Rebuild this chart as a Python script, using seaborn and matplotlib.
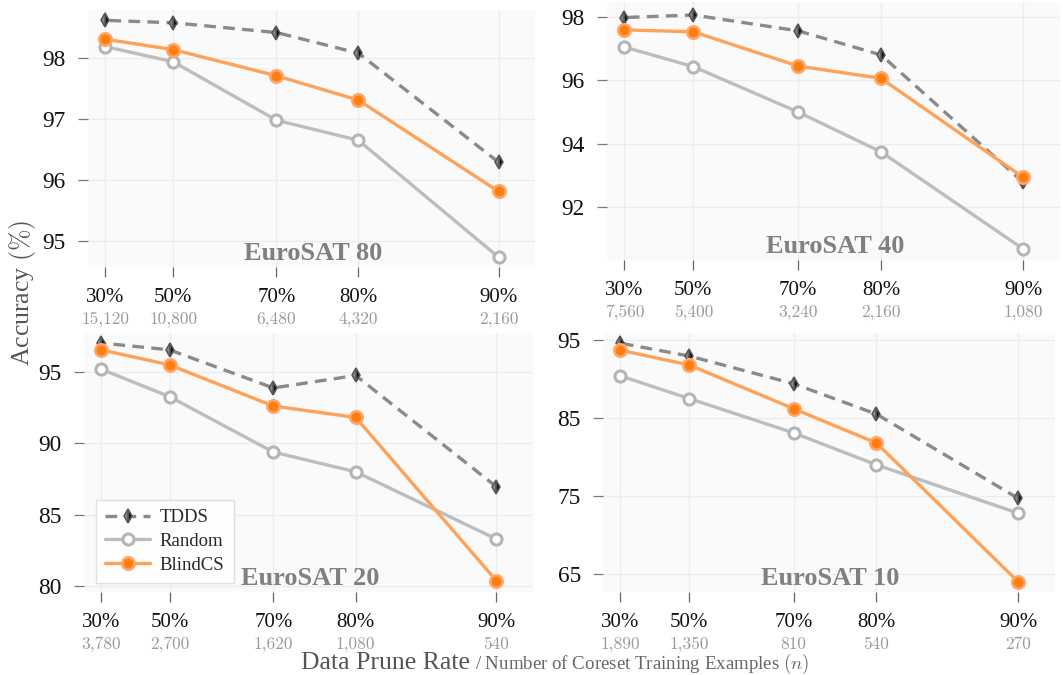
import matplotlib
matplotlib.use("Agg")
import matplotlib.pyplot as plt
import numpy as np
import seaborn as sns

# ---------------------------------------------------------------------------
# Data
# ---------------------------------------------------------------------------

PRUNE_LABELS = ["30%", "50%", "70%", "80%", "90%"]
KEEP_FRACTION = [0.7, 0.5, 0.3, 0.2, 0.1]   # 1 - prune rate, drawn on a log axis

DATASETS = ["EuroSAT 80", "EuroSAT 40", "EuroSAT 20", "EuroSAT 10"]

CORESET_SIZES = {
    "EuroSAT 80": ["15,120", "10,800", "6,480", "4,320", "2,160"],
    "EuroSAT 40": ["7,560", "5,400", "3,240", "2,160", "1,080"],
    "EuroSAT 20": ["3,780", "2,700", "1,620", "1,080", "540"],
    "EuroSAT 10": ["1,890", "1,350", "810", "540", "270"],
}

tdds_80 = [98.62, 98.58, 98.42, 98.08, 96.29]
random_80 = [98.19, 97.94, 96.98, 96.65, 94.73]
blindcs_80 = [98.31, 98.14, 97.71, 97.31, 95.81]

tdds_40 = [97.98, 98.06, 97.56, 96.80, 92.78]
random_40 = [97.05, 96.43, 95.00, 93.74, 90.68]
blindcs_40 = [97.59, 97.53, 96.45, 96.06, 92.94]

tdds_20 = [97.00, 96.52, 93.86, 94.73, 86.95]
random_20 = [95.17, 93.25, 89.38, 88.00, 83.30]
blindcs_20 = [96.52, 95.47, 92.60, 91.80, 80.38]

tdds_10 = [94.6, 92.95, 89.4, 85.5, 74.7]
random_10 = [90.4, 87.5, 83.1, 79.0, 72.8]
blindcs_10 = [93.7, 91.8, 86.2, 81.8, 64.0]

SERIES = {
    "EuroSAT 80": (tdds_80, random_80, blindcs_80),
    "EuroSAT 40": (tdds_40, random_40, blindcs_40),
    "EuroSAT 20": (tdds_20, random_20, blindcs_20),
    "EuroSAT 10": (tdds_10, random_10, blindcs_10),
}

Y_TICKS = {
    "EuroSAT 80": [95, 96, 97, 98],
    "EuroSAT 40": [92, 94, 96, 98],
    "EuroSAT 20": [80, 85, 90, 95],
    "EuroSAT 10": [65, 75, 85, 95],
}

Y_LIMITS = {
    "EuroSAT 80": (94.57, 98.79),
    "EuroSAT 40": (90.33, 98.47),
    "EuroSAT 20": (79.6, 97.7),
    "EuroSAT 10": (62.7, 95.9),
}

# ---------------------------------------------------------------------------
# Style
# ---------------------------------------------------------------------------

W, H = 1063, 675
DPI = 100

# axes boxes in pixels: left, right, top, bottom
AX_BOX = {
    "EuroSAT 80": (88, 535, 10, 267),
    "EuroSAT 40": (607, 1060, 2, 260),
    "EuroSAT 20": (84, 533, 333, 592),
    "EuroSAT 10": (603, 1055, 333, 592),
}

STYLES = {
    "TDDS": dict(color="#8a8a8a", linestyle="--", linewidth=2.4, marker="d",
                 markersize=7.5, fillstyle="right", markerfacecolor="#111111",
                 markerfacecoloralt="#8a8a8a", markeredgecolor="#555555",
                 markeredgewidth=1.1, dashes=(3.5, 2.2)),
    "Random": dict(color="#bdbdbd", linestyle="-", linewidth=2.4, marker="o",
                   markersize=8, markerfacecolor="white", markeredgecolor="#b5b5b5",
                   markeredgewidth=2.2),
    "BlindCS": dict(color="#ffa257", linestyle="-", linewidth=2.4, marker="o",
                    markersize=9, markerfacecolor="#ff7f0e", markeredgecolor="#ffa76a",
                    markeredgewidth=1.8),
}

sns.set_theme(style="whitegrid")
plt.rcParams["font.family"] = ["Liberation Serif", "DejaVu Serif"]
plt.rcParams["mathtext.fontset"] = "cm"
plt.rcParams["axes.unicode_minus"] = False

X_MAX = 0.7 * np.exp(0.085)
X_MIN = 0.1 * np.exp(-0.18)

fig = plt.figure(figsize=(W / DPI, H / DPI), dpi=DPI)
fig.patch.set_facecolor("white")

for name in DATASETS:
    l, r, t, b = AX_BOX[name]
    ax = fig.add_axes([l / W, (H - b) / H, (r - l) / W, (b - t) / H])
    ax.set_facecolor("#fafafa")

    for method, values in zip(["TDDS", "Random", "BlindCS"], SERIES[name]):
        st = dict(STYLES[method])
        dashes = st.pop("dashes", None)
        line = sns.lineplot(x=KEEP_FRACTION, y=values, ax=ax, label=method,
                            legend=False, **st).lines[-1]
        if dashes is not None:
            line.set_dashes(dashes)

    ax.set_xscale("log")
    ax.set_xlim(X_MAX, X_MIN)
    ax.set_ylim(*Y_LIMITS[name])
    ax.set_yticks(Y_TICKS[name])
    ax.set_yticklabels([str(v) for v in Y_TICKS[name]])
    ax.minorticks_off()
    ax.set_xticks(KEEP_FRACTION)
    ax.set_xticklabels(PRUNE_LABELS)

    ax.grid(True, color="#ececec", linewidth=1.0)
    for sp in ax.spines.values():
        sp.set_visible(False)
    ax.tick_params(axis="x", length=7, width=0.9, color="#666666", pad=8,
                   labelsize=15, labelcolor="#111111", bottom=True, direction="out")
    ax.tick_params(axis="y", length=7, width=0.9, color="#777777", pad=9,
                   labelsize=16.8, labelcolor="#111111", left=True, direction="out")

    # coreset sizes under the prune-rate labels
    for x, n in zip(KEEP_FRACTION, CORESET_SIZES[name]):
        ax.annotate(n, xy=(x, 0), xycoords=("data", "axes fraction"),
                    xytext=(0, -37.5), textcoords="offset points",
                    ha="center", va="center", fontsize=12.5, color="#9a9a9a",
                    family="cmr10")

    ax.text(0.503, 0.028, name, transform=ax.transAxes, ha="center", va="baseline",
            fontsize=19, fontweight="bold", color="#808080")

    if name == "EuroSAT 20":
        leg = ax.legend(loc="lower left", bbox_to_anchor=(0.027, 0.035),
                        borderaxespad=0, fontsize=13.5, frameon=True, fancybox=False,
                        handlelength=2.4, handletextpad=0.5, borderpad=0.5,
                        labelspacing=0.35)
        leg.get_frame().set_edgecolor("#dddddd")
        leg.get_frame().set_facecolor("white")
        leg.get_frame().set_alpha(0.9)

fig.text(23 / W, 1 - 293 / H, r"Accuracy $(\%)$", rotation=90, ha="center",
         va="center", fontsize=18.5, color="#555555")
fig.text(470 / W, 1 - 669 / H, "Data Prune Rate", ha="right", va="baseline",
         fontsize=18.5, color="#555555")
fig.text(475 / W, 1 - 669 / H, r"/ Number of Coreset Training Examples $(n)$",
         ha="left", va="baseline", fontsize=13.6, color="#666666")

fig.savefig("out.png", dpi=DPI, facecolor="white")
